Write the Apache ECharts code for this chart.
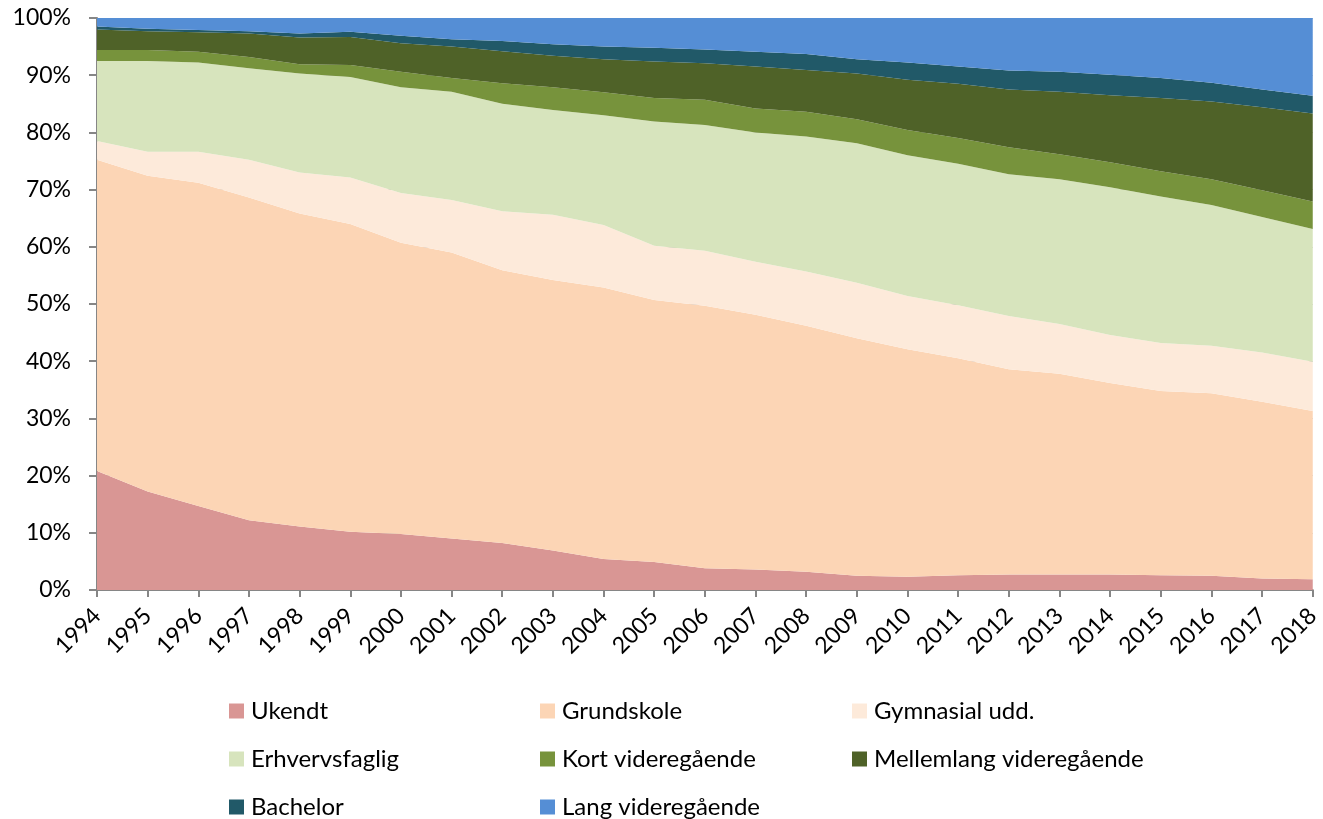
<!DOCTYPE html>
<html>
<head>
<meta charset="utf-8">
<script src="https://cdn.jsdelivr.net/npm/echarts@6/dist/echarts.min.js"></script>
<style>
  html, body { margin: 0; padding: 0; background: #fff; }
  #chart { width: 1323px; height: 819px; }
</style>
</head>
<body>
<div id="chart"></div>
<script>
// aar
const years = ['1994', '1995', '1996', '1997', '1998', '1999', '2000', '2001', '2002', '2003', '2004', '2005',
    '2006', '2007', '2008', '2009', '2010', '2011', '2012', '2013', '2014', '2015', '2016', '2017', '2018'];

// andele i procent
const ukendt = [20.8, 17.2, 14.7, 12.2, 11.1, 10.2, 9.8, 9.0, 8.2, 6.9, 5.4, 4.9, 3.8, 3.6, 3.2, 2.5, 2.3, 2.6, 2.7, 2.7, 2.7, 2.6, 2.5, 2.0, 1.9];
const grundskole = [54.4, 55.2, 56.5, 56.4, 54.7, 53.8, 50.9, 50.0, 47.7, 47.3, 47.5, 45.8, 45.9, 44.5, 43.0, 41.5, 39.8, 37.9, 35.9, 35.1, 33.5, 32.2, 31.9, 30.9, 29.4];
const gymnasial = [3.3, 4.2, 5.4, 6.6, 7.2, 8.1, 8.7, 9.2, 10.3, 11.4, 10.9, 9.5, 9.6, 9.3, 9.5, 9.7, 9.3, 9.3, 9.3, 8.7, 8.4, 8.4, 8.3, 8.6, 8.6];
const erhvervsfaglig = [14.0, 15.9, 15.6, 16.0, 17.3, 17.6, 18.5, 18.9, 18.8, 18.3, 19.2, 21.7, 22.0, 22.6, 23.6, 24.4, 24.6, 24.7, 24.8, 25.3, 25.8, 25.6, 24.6, 23.7, 23.2];
const kort = [1.9, 1.9, 1.9, 2.0, 1.6, 2.1, 2.7, 2.4, 3.6, 4.0, 4.0, 4.1, 4.4, 4.2, 4.3, 4.2, 4.4, 4.5, 4.7, 4.4, 4.4, 4.4, 4.5, 4.7, 4.8];
const mellemlang = [3.6, 3.3, 3.4, 4.1, 4.7, 4.9, 5.0, 5.5, 5.6, 5.5, 5.8, 6.4, 6.4, 7.3, 7.3, 8.0, 8.8, 9.5, 10.1, 10.9, 11.7, 12.8, 13.6, 14.5, 15.4];
const bachelor = [0.5, 0.4, 0.4, 0.4, 0.7, 0.9, 1.3, 1.3, 1.8, 2.0, 2.2, 2.4, 2.4, 2.6, 2.8, 2.5, 3.0, 3.0, 3.3, 3.5, 3.6, 3.5, 3.3, 3.1, 3.1];
const lang = [1.5, 1.9, 2.1, 2.3, 2.7, 2.4, 3.1, 3.7, 4.0, 4.6, 5.0, 5.2, 5.5, 5.9, 6.3, 7.2, 7.8, 8.5, 9.2, 9.4, 9.9, 10.5, 11.3, 12.5, 13.6];

const yTicks = [0, 10, 20, 30, 40, 50, 60, 70, 80, 90, 100];

const FONT = 'Lato, "Open Sans", sans-serif';

const layers = [
    { name: 'Ukendt', data: ukendt, color: '#D99694' },
    { name: 'Grundskole', data: grundskole, color: '#FCD5B5' },
    { name: 'Gymnasial udd.', data: gymnasial, color: '#FDEADA' },
    { name: 'Erhvervsfaglig', data: erhvervsfaglig, color: '#D7E4BD' },
    { name: 'Kort videregående', data: kort, color: '#77933C' },
    { name: 'Mellemlang videregående', data: mellemlang, color: '#4F6228' },
    { name: 'Bachelor', data: bachelor, color: '#215968' },
    { name: 'Lang videregående', data: lang, color: '#558ED5' }
];

// en legende pr. kolonne, saa kolonnerne flugter
function legendCol(names, left) {
    return {
        data: names,
        orient: 'vertical',
        left: left,
        top: 694,
        height: 160,
        itemWidth: 15,
        itemHeight: 15,
        itemGap: 24,
        icon: 'rect',
        textStyle: { fontFamily: FONT, fontSize: 24, color: '#000', lineHeight: 22, padding: [0, 0, 0, 2] },
        selectedMode: false
    };
}

let myChart = echarts.init(document.getElementById('chart'));
const option = {
    animation: false,
    color: layers.map(l => l.color),
    grid: { left: 97, right: 6, top: 18, bottom: 229, containLabel: false },
    legend: [
        legendCol(['Ukendt', 'Erhvervsfaglig', 'Bachelor'], 224),
        legendCol(['Grundskole', 'Kort videregående', 'Lang videregående'], 535),
        legendCol(['Gymnasial udd.', 'Mellemlang videregående'], 847)
    ],
    xAxis: {
        type: 'category',
        data: years,
        boundaryGap: false,
        axisLine: { show: true, lineStyle: { color: '#868686', width: 2 } },
        axisTick: { show: true, length: 7, lineStyle: { color: '#868686', width: 2 } },
        axisLabel: {
            rotate: 45,
            interval: 0,
            margin: 22,
            color: '#000',
            fontFamily: FONT,
            fontSize: 23
        },
        splitLine: { show: false }
    },
    yAxis: {
        type: 'value',
        min: yTicks[0],
        max: yTicks[yTicks.length - 1],
        interval: 10,
        axisLine: { show: true, lineStyle: { color: '#868686', width: 2 } },
        axisTick: { show: true, length: 8, lineStyle: { color: '#868686', width: 2 } },
        axisLabel: {
            formatter: '{value}%',
            margin: 26,
            color: '#000',
            fontFamily: FONT,
            fontSize: 23
        },
        splitLine: { show: true, lineStyle: { color: '#BFBFBF', width: 1 } }
    },
    series: layers.map(l => ({
        name: l.name,
        type: 'line',
        stack: 'total',
        data: l.data,
        symbol: 'none',
        lineStyle: { width: 0 },
        areaStyle: { color: l.color, opacity: 1 },
        itemStyle: { color: l.color }
    }))
};
option && myChart.setOption(option);
</script>
</body>
</html>
